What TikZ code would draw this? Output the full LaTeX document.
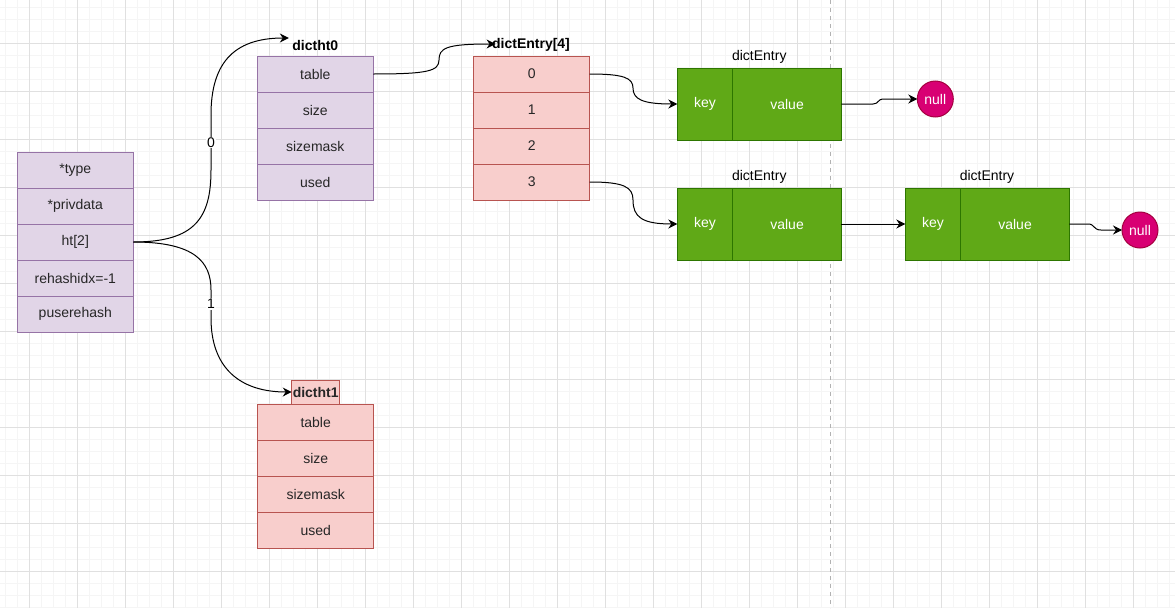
\documentclass[tikz,border=0pt]{standalone}
\usepackage{fontspec}
\setmainfont{Liberation Sans}
\usetikzlibrary{chains,positioning,arrows.meta}
\usepackage{xcolor}
\definecolor{lilacfill}{HTML}{E1D5E7}
\definecolor{lilacline}{HTML}{9673A6}
\definecolor{rosefill}{HTML}{F8CECC}
\definecolor{roseline}{HTML}{B85450}
\definecolor{entryfill}{HTML}{60A917}
\definecolor{entryline}{HTML}{2D7600}
\definecolor{nullfill}{HTML}{D80073}
\definecolor{nullline}{HTML}{A50040}

\begin{document}
\begin{tikzpicture}[x=1pt,y=-1pt,node distance=0pt,
        % define styles
        cell/.style={
             draw,
             rectangle,
             line width=1pt,
             minimum width=116pt,
             minimum height=36pt,
             inner sep=0pt,
             outer sep=0pt,
             font=\fontsize{14}{16}\selectfont,
             text=black!85
        },
        lilac/.style={cell, fill=lilacfill, draw=lilacline},
        rose/.style={cell, fill=rosefill, draw=roseline},
        keyc/.style={
            cell,
            fill=entryfill,
            draw=entryline,
            text=white,
            minimum width=55.5pt,
            minimum height=72pt
        },
        valc/.style={keyc, minimum width=108.5pt},
        nullc/.style={
            circle,
            draw=nullline,
            fill=nullfill,
            line width=1pt,
            minimum size=36pt,
            inner sep=0pt,
            outer sep=0pt,
            text=white,
            font=\fontsize{14}{16}\selectfont
        },
        headlabel/.style={font=\bfseries\fontsize{14}{16}\selectfont},
        entrylabel/.style={font=\fontsize{14}{16}\selectfont},
        tag/.style={fill=white, inner sep=1pt, font=\fontsize{14}{16}\selectfont},
        link/.style={draw, line width=1pt, -{Stealth[length=9pt,width=9pt,inset=3pt]}},
        gridminor/.style={draw=black!4, line width=1pt},
        gridmajor/.style={draw=black!12, line width=1pt}
    ]

        % background and grid
        \useasboundingbox (0,0) rectangle (1175,608);
        \fill[white] (0,0) rectangle (1175,608);
        \foreach \gx in {5.3,17.3,...,1175} \draw[gridminor] (\gx,0) -- (\gx,608);
        \foreach \gy in {7.3,19.3,...,608} \draw[gridminor] (0,\gy) -- (1175,\gy);
        \foreach \gx in {29.3,77.3,...,1175} \draw[gridmajor] (\gx,0) -- (\gx,608);
        \foreach \gy in {43.3,91.3,...,608} \draw[gridmajor] (0,\gy) -- (1175,\gy);
        \draw[black!30, line width=1pt, dash pattern=on 4pt off 4pt] (830.7,0) -- (830.7,608);

        % dict
        \begin{scope}[start chain=dict going below]
        \node[on chain=dict,lilac,anchor=north west] at (17.3,152) (type) {*type};
        \node[on chain=dict,lilac] (privdata) {*privdata};
        \node[on chain=dict,lilac] (ht) {ht[2]};
        \node[on chain=dict,lilac] (rehash) {rehashidx=-1};
        \node[on chain=dict,lilac] (puse) {puserehash};
        \end{scope}

        % dictht0
        \node[headlabel] at (315.3,45) (l0) {dictht0};
        \begin{scope}[start chain=ht0 going below]
        \node[on chain=ht0,lilac,anchor=north west] at (257.3,56) (t0table) {table};
        \node[on chain=ht0,lilac] (t0size) {size};
        \node[on chain=ht0,lilac] (t0mask) {sizemask};
        \node[on chain=ht0,lilac] (t0used) {used};
        \end{scope}

        % dictht1
        \begin{scope}[start chain=ht1 going below]
        \node[on chain=ht1,rose,anchor=north west] at (257.7,404) (t1table) {table};
        \node[on chain=ht1,rose] (t1size) {size};
        \node[on chain=ht1,rose] (t1mask) {sizemask};
        \node[on chain=ht1,rose] (t1used) {used};
        \end{scope}
        \node[rose,headlabel,minimum width=48pt,minimum height=24pt,above=of t1table] (l1) {dictht1};

        % dictEntry[4]
        \node[headlabel] at (531,45) (la) {dictEntry[4]};
        \begin{scope}[start chain=arr going below]
        \node[on chain=arr,rose,anchor=north west] at (473.7,56) (a0) {0};
        \node[on chain=arr,rose] (a1) {1};
        \node[on chain=arr,rose] (a2) {2};
        \node[on chain=arr,rose] (a3) {3};
        \end{scope}

        % entries
        \node[entrylabel] at (759.3,57) (e1) {dictEntry};
        \node[keyc,anchor=north west] at (677.3,68) (k1) {key};
        \node[valc,right=of k1] (v1) {value};
        \node[entrylabel] at (759.3,177) (e2) {dictEntry};
        \node[keyc,anchor=north west] at (677.3,188) (k2) {key};
        \node[valc,right=of k2] (v2) {value};
        \node[entrylabel] at (987,177) (e3) {dictEntry};
        \node[keyc,anchor=north west] at (905.3,188) (k3) {key};
        \node[valc,right=of k3] (v3) {value};
        \node[nullc] at (935.3,99) (n1) {null};
        \node[nullc] at (1140,230) (n2) {null};

        % connectors
        \draw[link] (ht.east) .. controls (195,242) and (211,218) .. (211,170)
            -- node[tag] {0} (211,115) .. controls (211,65) and (232,38) .. ([yshift=7pt]l0.west);
        \draw[link] (ht.east) .. controls (195,242) and (211,262) .. (211,290)
            -- node[tag] {1} (211,318) .. controls (211,368) and (240,392) .. (l1.west);
        \draw[link] (t0table.east) .. controls (428,74) and (439,71) .. (439,60)
            .. controls (439,48) and (446,44) .. ([xshift=7pt,yshift=1pt]la.west);
        \draw[link] (a0.east) .. controls (624,74) and (633,78) .. (633,88)
            .. controls (633,99) and (642,104) .. (k1.west);
        \draw[link] (a3.east) .. controls (624,182) and (633,187) .. (633,200)
            .. controls (633,217) and (642,224) .. (k2.west);
        \draw[link] (v1.east) -- (873,104) .. controls (879,104) and (877,99) .. (884,99) -- (n1.west);
        \draw[link] (v2.east) -- (k3.west);
        \draw[link] (v3.east) -- (1088,224) .. controls (1095,224) and (1093,230) .. (1101,230) -- (n2.west);
\end{tikzpicture}
\end{document}
